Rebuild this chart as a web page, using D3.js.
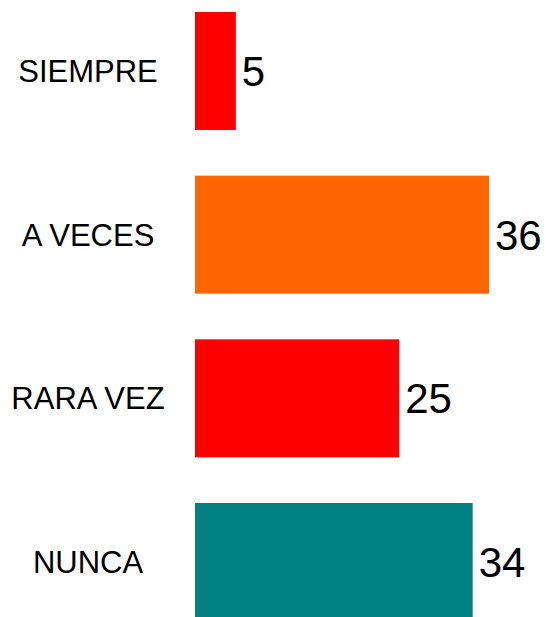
<!DOCTYPE html>
<html>
<head>
<meta charset="utf-8">
<script src="https://cdn.jsdelivr.net/npm/d3@7"></script>
<style>
  html, body { margin: 0; padding: 0; background: #fff; }
  svg { display: block; }
  text { font-family: "Liberation Sans", Arial, sans-serif; }
</style>
</head>
<body>
<svg id="chart" width="546" height="617"></svg>
<script>
const categories = ["SIEMPRE", "A VECES", "RARA VEZ", "NUNCA"];
const values = [5, 36, 25, 34];
const colors = ["#FF0000", "#FF6600", "#FF0000", "#008080"];

const svg = d3.select("#chart");
const x = d3.scaleLinear().domain([0, 36]).range([195, 489]);
const y = d3.scaleBand().domain(categories).range([12, 621]).paddingInner(0.279).paddingOuter(0);

const data = categories.map((c, i) => ({ c, v: values[i], color: colors[i] }));

svg.selectAll("rect.bar").data(data).join("rect")
  .attr("class", "bar")
  .attr("x", x(0))
  .attr("y", d => y(d.c))
  .attr("width", d => x(d.v) - x(0))
  .attr("height", y.bandwidth())
  .attr("fill", d => d.color);

svg.selectAll("text.cat").data(data).join("text")
  .attr("class", "cat")
  .attr("x", 88)
  .attr("y", d => y(d.c) + y.bandwidth() / 2)
  .attr("dy", "0.36em")
  .attr("text-anchor", "middle")
  .attr("font-size", 31)
  .attr("fill", "#000")
  .text(d => d.c);

svg.selectAll("text.val").data(data).join("text")
  .attr("class", "val")
  .attr("x", d => x(d.v) + 6)
  .attr("y", d => y(d.c) + y.bandwidth() / 2)
  .attr("dy", "0.36em")
  .attr("font-size", 42)
  .attr("fill", "#000")
  .text(d => d.v);
</script>
</body>
</html>
